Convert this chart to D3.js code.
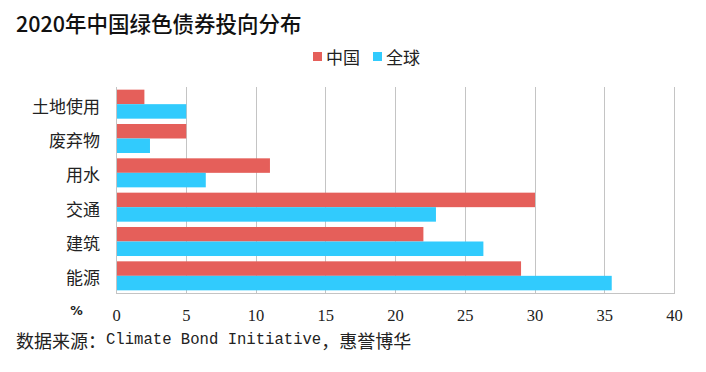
<!DOCTYPE html>
<html>
<head>
<meta charset="utf-8">
<script src="https://cdn.jsdelivr.net/npm/d3@7/dist/d3.min.js"></script>
<style>
  html, body { margin: 0; padding: 0; background: #fff; }
  svg { display: block; }
</style>
</head>
<body>
<div id="chart"></div>
<script>
const categories = ["土地使用", "废弃物", "用水", "交通", "建筑", "能源"];
const seriesNames = ["中国", "全球"];
const chinaValues = [2, 5, 11, 30, 22, 29];
const globalValues = [5, 2.4, 6.4, 22.9, 26.3, 35.5];
const xTicks = [0, 5, 10, 15, 20, 25, 30, 35, 40];
const colors = ["#E55F5A", "#31CBFD"];
const titleText = "2020年中国绿色债券投向分布";
const unitText = "%";

const W = 706, H = 372;
const svg = d3.select("#chart").append("svg").attr("width", W).attr("height", H);

const plot = { left: 116, right: 674, top: 87, bottom: 293 };

const x = d3.scaleLinear().domain([0, 40]).range([plot.left, plot.right]);
const y = d3.scaleBand().domain(categories).range([plot.top, plot.bottom])
  .paddingInner(0.155).paddingOuter(0.0775);
const ySub = d3.scaleBand().domain(seriesNames).range([0, y.bandwidth()]);

const cjk = "'Noto Sans CJK SC', 'Noto Sans', sans-serif";

// Title
svg.append("text")
  .attr("x", 16).attr("y", 22.5)
  .attr("dominant-baseline", "central")
  .attr("font-family", cjk)
  .attr("font-size", 21.5)
  .attr("font-weight", 500)
  .attr("fill", "#111")
  .text(titleText);

// Gridlines
svg.append("g").selectAll("line").data(xTicks).join("line")
  .attr("x1", d => Math.round(x(d)) + 0.5).attr("x2", d => Math.round(x(d)) + 0.5)
  .attr("y1", plot.top).attr("y2", plot.bottom)
  .attr("stroke", "#C4C4C4").attr("stroke-width", 1);

// Bottom axis line
svg.append("line")
  .attr("x1", plot.left).attr("x2", plot.right + 1)
  .attr("y1", plot.bottom + 0.5).attr("y2", plot.bottom + 0.5)
  .attr("stroke", "#C4C4C4").attr("stroke-width", 1);

// Bars
const data = categories.map((c, i) => ({ cat: c, vals: [chinaValues[i], globalValues[i]] }));
const groups = svg.append("g").selectAll("g").data(data).join("g")
  .attr("transform", d => `translate(0,${y(d.cat)})`);
groups.selectAll("rect").data(d => d.vals.map((v, j) => ({ v, s: seriesNames[j], j })))
  .join("rect")
  .attr("x", x(0) + 0.5)
  .attr("y", d => ySub(d.s))
  .attr("width", d => x(d.v) - x(0))
  .attr("height", ySub.bandwidth())
  .attr("fill", d => colors[d.j]);

// Left axis line (drawn over bars)
svg.append("line")
  .attr("x1", plot.left + 0.5).attr("x2", plot.left + 0.5)
  .attr("y1", plot.top).attr("y2", plot.bottom + 1)
  .attr("stroke", "#C4C4C4").attr("stroke-width", 1);

// Y category labels
svg.append("g").selectAll("text").data(categories).join("text")
  .attr("x", 100)
  .attr("y", d => y(d) + y.bandwidth() / 2 + 1)
  .attr("text-anchor", "end")
  .attr("dominant-baseline", "central")
  .attr("font-family", cjk)
  .attr("font-size", 17)
  .attr("fill", "#222")
  .text(d => d);

// X tick labels
svg.append("g").selectAll("text").data(xTicks).join("text")
  .attr("x", d => x(d) + 0.5)
  .attr("y", 315.5)
  .attr("text-anchor", "middle")
  .attr("dominant-baseline", "central")
  .attr("font-family", "'Liberation Serif', 'DejaVu Serif', serif")
  .attr("font-size", 16.5)
  .attr("fill", "#222")
  .text(d => d);

// Unit
svg.append("text")
  .attr("x", 76.5).attr("y", 310.5)
  .attr("text-anchor", "middle")
  .attr("dominant-baseline", "central")
  .attr("font-family", "'DejaVu Sans', sans-serif")
  .attr("font-size", 12.5)
  .attr("font-weight", 700)
  .attr("fill", "#222")
  .text(unitText);

// Legend
const legendX = [313, 373];
seriesNames.forEach((s, i) => {
  svg.append("rect")
    .attr("x", legendX[i]).attr("y", 52)
    .attr("width", 9).attr("height", 9)
    .attr("fill", colors[i]);
  svg.append("text")
    .attr("x", legendX[i] + 13).attr("y", 56.5)
    .attr("dominant-baseline", "central")
    .attr("font-family", cjk)
    .attr("font-size", 17)
    .attr("fill", "#222")
    .text(s);
});

// Source
const src = svg.append("text")
  .attr("x", 16).attr("y", 339.5)
  .attr("dominant-baseline", "central")
  .attr("fill", "#222");
src.append("tspan").attr("font-family", cjk).attr("font-size", 18).text("数据来源：");
src.append("tspan").attr("font-family", "'Liberation Mono', 'DejaVu Sans Mono', monospace")
  .attr("font-size", 15.6).text("Climate Bond Initiative");
src.append("tspan").attr("font-family", cjk).attr("font-size", 18).text("，惠誉博华");
</script>
</body>
</html>
